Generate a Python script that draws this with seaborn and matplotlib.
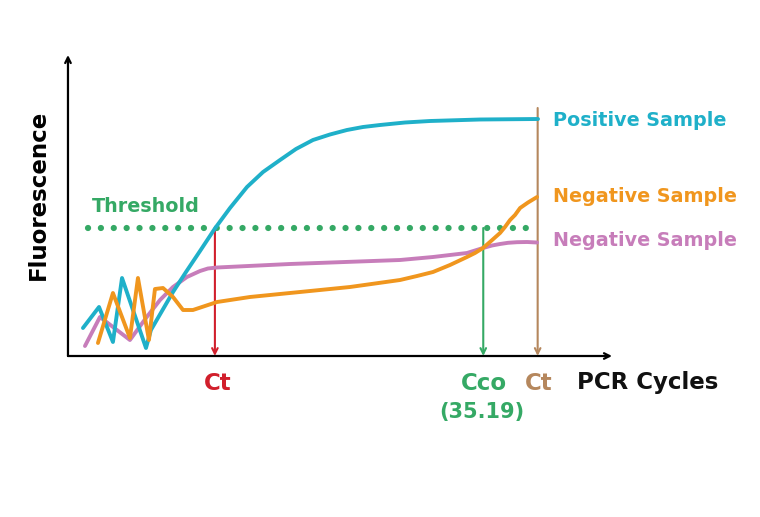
import matplotlib
matplotlib.use("Agg")
import matplotlib.pyplot as plt
import seaborn as sns

# qPCR amplification curves (cycles vs fluorescence)
pos_cycles = [1.27, 2.63, 3.81, 4.58, 6.61, 7.03, 8.90, 10.0, 11.19, 12.45, 13.73, 15.17,
              16.53, 17.97, 19.32, 20.76, 22.20, 23.64, 25.0, 26.44, 28.56, 30.68,
              34.92, 39.83]
pos_fluor = [2.8, 4.9, 1.4, 7.8, 0.8, 2.6, 6.4, 8.4, 10.5, 12.75, 14.8, 16.9,
             18.4, 19.6, 20.7, 21.6, 22.15, 22.6, 22.9, 23.1, 23.35, 23.5,
             23.65, 23.7]

neg1_cycles = [2.54, 3.81, 5.25, 5.93, 6.86, 7.37, 8.05, 8.90, 9.75, 10.59, 12.63,
               15.42, 18.81, 21.36, 23.90, 28.14, 29.58, 30.93, 32.37, 33.81, 34.49,
               35.17, 35.85, 36.61, 37.03, 37.46, 37.88, 38.31, 38.98, 39.75]
neg1_fluor = [1.3, 6.3, 1.8, 7.8, 1.6, 6.7, 6.8, 5.9, 4.6, 4.6, 5.4,
              5.9, 6.3, 6.6, 6.9, 7.6, 8.0, 8.4, 9.1, 9.9, 10.3,
              10.8, 11.5, 12.3, 12.9, 13.6, 14.1, 14.8, 15.35, 15.9]

neg2_cycles = [1.44, 2.71, 5.25, 6.61, 7.80, 8.90, 10.08, 11.19, 11.86, 12.63, 18.81,
               28.14, 30.93, 33.81, 34.49, 35.17, 35.93, 36.61, 37.29, 38.05, 38.9, 39.75]
neg2_fluor = [1.0, 3.9, 1.6, 3.8, 5.6, 6.9, 7.9, 8.5, 8.75, 8.85, 9.2,
              9.6, 9.9, 10.3, 10.55, 10.8, 11.05, 11.2, 11.32, 11.38, 11.4, 11.35]

threshold = 12.8
ct_pos = 12.45
cco = 35.19
ct_end = 39.8

CYAN = "#1fb0c9"
ORANGE = "#f0961e"
PURPLE = "#c77dba"
GREEN = "#35a965"
RED = "#d11f2c"
BROWN = "#b5875d"

sns.set_style("white")
plt.rcParams["font.family"] = ["DejaVu Sans"]

fig = plt.figure(figsize=(7.6, 5.17), dpi=100)
ax = fig.add_axes([0, 0, 1, 1])
ax.set_xlim(-5.76, 58.64)
ax.set_ylim(-16.1, 35.6)
ax.axis("off")

# axes with arrows
ax.annotate("", xy=(46.1, 0), xytext=(0, 0),
            arrowprops=dict(arrowstyle="->", color="black", lw=1.6, shrinkA=0, shrinkB=0))
ax.annotate("", xy=(0, 30.1), xytext=(0, 0),
            arrowprops=dict(arrowstyle="->", color="black", lw=1.6, shrinkA=0, shrinkB=0))

# vertical markers
ax.annotate("", xy=(ct_pos, 0), xytext=(ct_pos, threshold),
            arrowprops=dict(arrowstyle="->", color=RED, lw=1.5, shrinkA=0, shrinkB=0))
ax.annotate("", xy=(cco, 0), xytext=(cco, threshold),
            arrowprops=dict(arrowstyle="->", color=GREEN, lw=1.5, shrinkA=0, shrinkB=0))
ax.annotate("", xy=(ct_end, 0), xytext=(ct_end, 24.8),
            arrowprops=dict(arrowstyle="->", color=BROWN, lw=1.5, shrinkA=0, shrinkB=0))

# threshold (dotted)
ax.plot([1.7, ct_end], [threshold, threshold], color=GREEN, lw=4.5,
        linestyle=(0, (0.01, 2.05)), dash_capstyle="round", zorder=2)

# curves
for xs, ys, c in [(neg2_cycles, neg2_fluor, PURPLE),
                  (pos_cycles, pos_fluor, CYAN),
                  (neg1_cycles, neg1_fluor, ORANGE)]:
    sns.lineplot(x=xs, y=ys, color=c, lw=2.8, sort=False, estimator=None, ax=ax,
                 solid_joinstyle="round", solid_capstyle="round", zorder=3)

fs = 13.8
ax.text(41.1, 23.6, "Positive Sample", color=CYAN, fontsize=fs, fontweight="bold",
        ha="left", va="center")
ax.text(41.1, 15.9, "Negative Sample", color=ORANGE, fontsize=fs, fontweight="bold",
        ha="left", va="center")
ax.text(41.1, 11.5, "Negative Sample", color=PURPLE, fontsize=fs, fontweight="bold",
        ha="left", va="center")
ax.text(6.6, 15.0, "Threshold", color=GREEN, fontsize=fs, fontweight="bold",
        ha="center", va="center")
ax.text(-2.54, 16.1, "Fluorescence", color="black", fontsize=16.5, fontweight="bold",
        ha="center", va="center", rotation=90)
bfs = 16.5
ax.text(12.7, -2.7, "Ct", color=RED, fontsize=bfs, fontweight="bold", ha="center", va="center")
ax.text(35.25, -2.7, "Cco", color=GREEN, fontsize=bfs, fontweight="bold", ha="center", va="center")
ax.text(35.1, -5.6, "(35.19)", color=GREEN, fontsize=15, fontweight="bold", ha="center", va="center")
ax.text(39.9, -2.7, "Ct", color=BROWN, fontsize=bfs, fontweight="bold", ha="center", va="center")
ax.text(43.1, -2.7, "PCR Cycles", color="#111111", fontsize=bfs, fontweight="bold",
        ha="left", va="center")

fig.savefig("out.png", dpi=100)
